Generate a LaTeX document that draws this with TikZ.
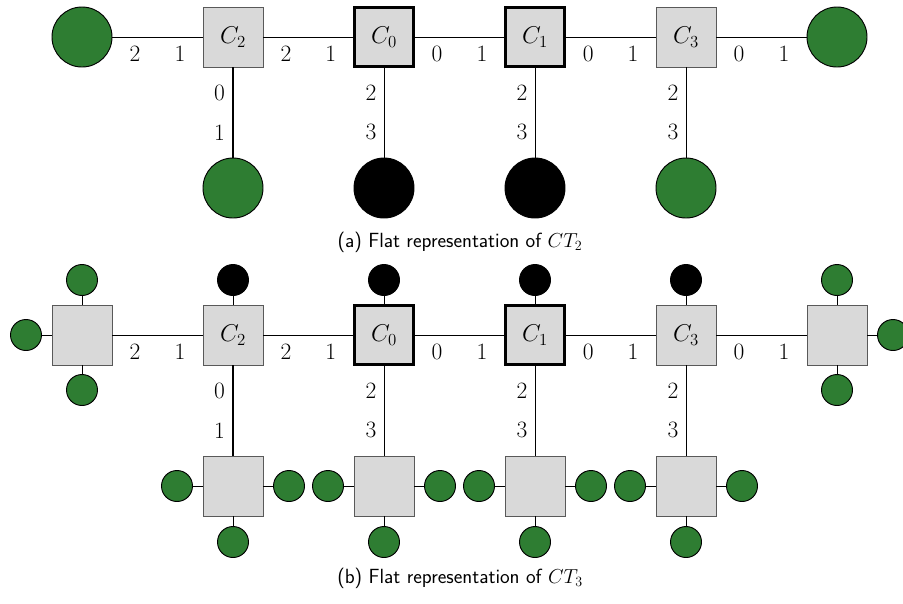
\documentclass[tikz,border=0pt]{standalone}
\usepackage{tikz}
\definecolor{leafgreen}{HTML}{2E7D32}
\definecolor{boxgray}{HTML}{D9D9D9}

\begin{document}
\begin{tikzpicture}[x=0.03cm, y=-0.03cm, font=\fontsize{20}{24}\selectfont,
      line width=0.8pt,
      sq/.style = {shape=rectangle, draw=black!65, fill=boxgray,
        minimum size=1.8cm},
      hub/.style = {sq, draw=black, line width=2.6pt, minimum size=1.75cm},
      big/.style = {shape=circle, draw, minimum size=1.8cm},
      small/.style = {shape=circle, draw, minimum size=0.93cm},
      lab/.style = {below=1.5mm},
      vlab/.style = {left=1mm},
      caption/.style = {font=\sffamily\fontsize{17.5}{21}\selectfont}]
  \useasboundingbox (0,0) rectangle (903,603);

  % (a) flat representation of CT_2
  \node[big, fill=leafgreen] (a-l) at (82,37) {};
  \node[sq] (a-c2) at (233,37) {$C_2$};
  \node[hub] (a-c0) at (384,37) {$C_0$};
  \node[hub] (a-c1) at (535,37) {$C_1$};
  \node[sq] (a-c3) at (686,37) {$C_3$};
  \node[big, fill=leafgreen] (a-r) at (837,37) {};
  \node[big, fill=leafgreen] (a-d2) at (233,188) {};
  \node[big, fill=black] (a-d0) at (384,188) {};
  \node[big, fill=black] (a-d1) at (535,188) {};
  \node[big, fill=leafgreen] (a-d3) at (686,188) {};
  \foreach \a/\b/\p/\q in {l/c2/2/1, c2/c0/2/1, c0/c1/0/1, c1/c3/0/1, c3/r/0/1}
    \draw (a-\a) -- node[pos=.25, lab] {\p} node[pos=.75, lab] {\q} (a-\b);
  \draw[line width=1.6pt] (a-c2) -- node[pos=.28, vlab] {0}
    node[pos=.72, vlab] {1} (a-d2);
  \foreach \n in {0,1,3}
    \draw (a-c\n) -- node[pos=.28, vlab] {2} node[pos=.72, vlab] {3} (a-d\n);
  \node[caption] (cap-a) at (460,242) {(a) Flat representation of $CT_2$};

  % (b) flat representation of CT_3
  \node[sq] (b-l) at (82,335) {};
  \node[sq] (b-c2) at (233,335) {$C_2$};
  \node[hub] (b-c0) at (384,335) {$C_0$};
  \node[hub] (b-c1) at (535,335) {$C_1$};
  \node[sq] (b-c3) at (686,335) {$C_3$};
  \node[sq] (b-r) at (837,335) {};
  \node[small, fill=leafgreen] (b-lt) at (82,280) {};
  \node[small, fill=leafgreen] (b-lw) at (26,335) {};
  \node[small, fill=leafgreen] (b-lb) at (82,390) {};
  \node[small, fill=leafgreen] (b-rt) at (837,280) {};
  \node[small, fill=leafgreen] (b-re) at (893,335) {};
  \node[small, fill=leafgreen] (b-rb) at (837,390) {};
  \draw (b-l) -- (b-lt) (b-l) -- (b-lw) (b-l) -- (b-lb);
  \draw (b-r) -- (b-rt) (b-r) -- (b-re) (b-r) -- (b-rb);
  \foreach \n/\x in {2/233, 0/384, 1/535, 3/686} {
    \node[small, fill=black] (b-t\n) at (\x,280) {};
    \draw (b-c\n) -- (b-t\n);
    \node[sq] (b-d\n) at (\x,486) {};
    \node[small, fill=leafgreen] (b-dw\n) at (\x-56,486) {};
    \node[small, fill=leafgreen] (b-de\n) at (\x+56,486) {};
    \node[small, fill=leafgreen] (b-ds\n) at (\x,542) {};
    \draw (b-d\n) -- (b-dw\n) (b-d\n) -- (b-de\n) (b-d\n) -- (b-ds\n);
  }
  \foreach \a/\b/\p/\q in {l/c2/2/1, c2/c0/2/1, c0/c1/0/1, c1/c3/0/1, c3/r/0/1}
    \draw (b-\a) -- node[pos=.25, lab] {\p} node[pos=.75, lab] {\q} (b-\b);
  \draw[line width=1.6pt] (b-c2) -- node[pos=.28, vlab] {0}
    node[pos=.72, vlab] {1} (b-d2);
  \foreach \n in {0,1,3}
    \draw (b-c\n) -- node[pos=.28, vlab] {2} node[pos=.72, vlab] {3} (b-d\n);
  \node[caption] (cap-b) at (460,578) {(b) Flat representation of $CT_3$};
\end{tikzpicture}
\end{document}
